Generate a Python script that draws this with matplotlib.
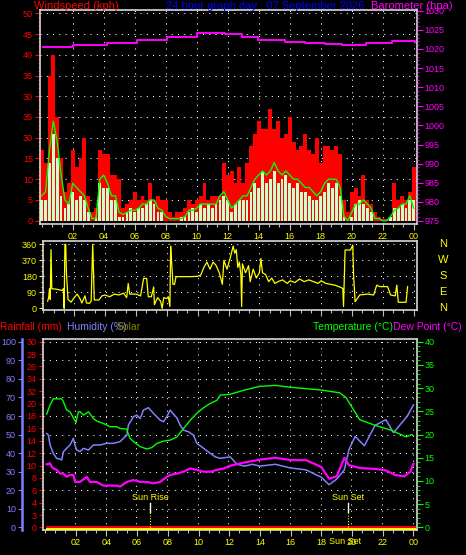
import matplotlib
matplotlib.use('Agg')
import matplotlib.pyplot as plt
import numpy as np

# -----------------------------
# Data
wind_t = [i * 0.25 for i in range(97)]  # hours, 15 minute steps
gust = [17, 14, 35, 40, 25, 15, 7, 9, 17, 13, 15, 20, 6, 2, 3, 17, 16, 16, 11, 11,
        10, 3, 4, 5, 7, 5, 6, 5, 9, 5, 6, 5, 5, 2, 1, 2, 2, 3, 5, 4,
        5, 6, 9, 5, 6, 6, 6, 14, 11, 12, 9, 13, 9, 14, 18, 21, 24, 22, 22, 27,
        22, 24, 20, 21, 25, 19, 17, 18, 21, 17, 16, 20, 14, 18, 18, 17, 18, 16, 5, 2,
        7, 8, 6, 11, 5, 4, 2, 1, 0.5, 0.5, 1, 9, 5, 6, 5, 7, 13]
speed = [5, 5, 14, 21, 15, 6, 3, 4, 7, 5, 6, 5, 2, 0, 1, 9, 8, 8, 5, 5,
         1, 1, 2, 3, 2, 3, 3, 4, 5, 4, 2, 2, 0, 0, 0, 0, 1, 1, 2, 3,
         2, 4, 3, 4, 3, 4, 5, 6, 5, 2, 4, 5, 5, 5, 7, 9, 8, 12, 9, 10,
         12, 9, 10, 11, 9, 8, 9, 7, 7, 6, 5, 5, 6, 7, 9, 8, 9, 6, 1, 0,
         1, 4, 5, 4, 3, 2, 0, 0, 0, 0, 1, 3, 3, 4, 3, 5, 5]
avg = [6, 7, 17, 24, 19, 11, 5, 4, 9, 8, 7, 6, 3, 0.5, 0.5, 10, 11, 9, 6, 6,
       2, 1.5, 2, 2.5, 2.5, 3, 4, 4, 5, 5, 3, 2.5, 1, 0.5, 0.5, 0.5, 0.5, 1, 2.5, 2.5,
       3, 4, 4, 4, 4, 4, 6, 7, 5, 3, 4, 5, 6, 6, 8, 10, 11, 12, 11, 12,
       14, 12, 11, 12, 11, 10, 10, 9, 8, 8, 7, 6, 7, 9, 10, 10, 10, 8, 1, 0,
       2, 4, 4, 5, 4, 3, 0.5, 0.5, 0, 0, 1, 2.5, 3, 4, 4, 6, 3]

baro_t = [0.1, 2.0, 4.2, 6.15, 8.1, 10.0, 11.0, 11.8, 12.9, 13.95, 15.7, 17.0, 18.3,
          19.4, 20.9, 22.6, 23.5, 24.1]
baro = [1020.6, 1021.1, 1021.5, 1022.4, 1023.2, 1024.1, 1024.3, 1023.8, 1023.1, 1022.4,
        1021.9, 1021.5, 1021.2, 1021.1, 1021.5, 1022.0, 1022.2, 1021.7]

dir_t = [0.28, 0.35, 0.4, 0.45, 0.5, 0.55, 0.8, 1.0, 1.2, 1.3, 1.35, 1.4, 1.45, 1.5, 1.6,
         1.8, 2.0, 2.2, 2.4, 2.5, 2.7, 2.8, 3.0, 3.1, 3.2, 3.25, 3.3, 3.6, 3.8, 4.0,
         4.3, 4.6, 4.9, 5.2, 5.4, 5.5, 5.6, 6.0, 6.3, 6.5, 6.7, 6.8, 7.0, 7.15, 7.2,
         7.4, 7.6, 7.7, 7.8, 8.0, 8.1, 8.2, 8.25, 8.3, 8.4, 8.5, 8.6, 9.0, 9.5, 10.0,
         10.2, 10.4, 10.6, 10.8, 11.0, 11.2, 11.4, 11.6, 11.7, 11.9, 12.1, 12.3, 12.4, 12.5, 12.6,
         12.7, 12.8, 12.85, 12.9, 13.1, 13.3, 13.4, 13.6, 13.8, 14.0, 14.1, 14.2, 14.4, 14.6, 14.8,
         15.0, 15.2, 15.5, 15.8, 16.0, 16.3, 16.6, 16.9, 17.2, 17.5, 17.8, 18.0, 18.3, 18.6, 18.9,
         19.2, 19.4, 19.45, 19.55, 19.9, 20.05, 20.1, 20.2, 20.5, 21.0, 21.4, 21.6, 21.8, 22.3, 22.5,
         22.8, 22.9, 23.0, 23.5, 23.6]
wind_dir = [40, 60, 110, 50, 330, 110, 108, 105, 100, 110, 0, 360, 360, 197, 50,
            35, 60, 80, 50, 30, 70, 30, 28, 40, 360, 215, 47, 47, 70, 75,
            65, 80, 75, 85, 60, 140, 80, 80, 70, 168, 168, 65, 65, 120, 20,
            60, 40, 0, 60, 55, 65, 10, 350, 280, 135, 135, 178, 178, 178, 180,
            187, 230, 260, 220, 260, 240, 200, 135, 270, 220, 280, 350, 310, 330, 230,
            260, 190, 10, 250, 200, 240, 150, 220, 170, 200, 280, 200, 190, 150, 170,
            140, 150, 160, 140, 155, 145, 165, 150, 160, 150, 140, 155, 140, 135, 130,
            120, 112, 10, 328, 328, 356, 187, 37, 75, 80, 75, 130, 122, 122, 75,
            70, 131, 34, 34, 122]

temp_t = [0.11, 0.33, 0.54, 1.09, 1.2, 1.41, 1.63, 1.85, 2.02, 2.17, 2.3, 2.5, 2.83, 3.15,
          3.37, 3.8, 4.24, 4.67, 4.89, 5.33, 5.37, 5.54, 5.76, 6.2, 6.63, 6.96, 7.28, 7.72,
          8.15, 8.59, 9.02, 9.46, 9.89, 10.33, 10.76, 11.2, 11.41, 12.07, 13.0, 14.0, 15.0,
          16.0, 17.0, 18.0, 19.2, 19.6, 19.9, 20.5, 21.5, 22.5, 23.2, 23.5, 23.9]
temp = [24.4, 26.4, 27.7, 27.7, 27.1, 25.3, 24.9, 23.6, 22.6, 24.9, 24.9, 24.2, 24.9, 23.5,
        22.9, 22.4, 21.7, 21.7, 21.3, 21.2, 20.6, 19.2, 18.5, 17.4, 16.9, 17.2, 18.1, 18.6,
        18.8, 19.5, 21.3, 23.1, 24.6, 25.8, 26.7, 27.4, 28.5, 28.7, 29.6, 30.4, 30.6,
        30.2, 29.9, 29.6, 29.0, 28.0, 26.4, 23.2, 22.0, 21.0, 20.0, 19.5, 20.0]

hum_t = [0.11, 0.22, 0.33, 0.54, 0.76, 0.98, 1.09, 1.2, 1.41, 1.63, 1.85, 1.96, 2.07, 2.28,
         2.5, 2.83, 3.15, 3.59, 4.02, 4.46, 4.89, 5.11, 5.33, 5.43, 5.76, 5.98, 6.2, 6.41,
         6.74, 7.07, 7.5, 7.72, 7.93, 8.15, 8.37, 8.59, 8.8, 9.02, 9.35, 9.67, 9.89, 10.33,
         10.76, 11.09, 11.41, 12.07, 12.5, 13.0, 13.5, 14.0, 15.0, 16.0, 17.0, 18.0, 18.5,
         19.0, 19.5, 19.8, 20.2, 20.8, 21.5, 22.2, 22.7, 23.2, 23.6, 24.0]
humidity = [50.6, 49.7, 44.4, 39.9, 37.2, 36.8, 36.3, 40.8, 42.6, 44.4, 48, 44, 41.7, 40.8,
            42.6, 41.7, 44.4, 44.4, 45.3, 45.3, 46.2, 48, 49.7, 55.1, 59.6, 60.5, 58.7, 63.2,
            64.5, 61.4, 57.8, 56.9, 59.6, 63.2, 61, 59, 55.1, 52.4, 51.5, 49.7, 45.3, 42.6,
            39.9, 38, 37.2, 38, 34, 33, 34, 33, 34, 32, 31, 27, 23,
            26, 31, 42, 49, 44, 55, 58, 51, 56, 60, 66]

dew_t = [0.11, 0.33, 0.43, 0.54, 0.76, 0.98, 1.2, 1.41, 1.63, 1.85, 1.96, 2.28, 2.72, 2.93,
         3.37, 3.8, 4.24, 4.67, 4.89, 5.33, 5.76, 6.2, 6.63, 7.07, 7.5, 7.93, 8.15, 8.59,
         9.02, 9.46, 9.89, 10.33, 10.76, 11.2, 11.63, 12.07, 13.0, 14.0, 15.0, 16.0, 17.0,
         18.0, 18.5, 19.0, 19.5, 19.8, 20.5, 21.5, 22.2, 22.8, 23.4, 23.8, 24.0]
dew = [13.6, 13.8, 13.1, 12.7, 12.4, 11.6, 11.6, 10.9, 11.3, 11.3, 9.8, 9.8, 10.9, 9.8,
       9.8, 9.0, 9.0, 9.0, 8.8, 9.8, 10.2, 9.8, 9.8, 9.5, 9.8, 10.9, 11.3, 11.6,
       12.0, 12.7, 12.4, 12.0, 12.0, 12.4, 12.7, 13.3, 14.0, 14.6, 15.0, 14.5, 14.5,
       13.0, 10.5, 11.0, 15.0, 13.4, 12.8, 12.6, 12.3, 11.3, 11.0, 12.0, 13.7]

rain_t = [0.1, 24.1]
rain = [0, 0]
solar = [0, 0]

sunrise = 6.84
sunset = 19.76

hour_ticks = [2, 4, 6, 8, 10, 12, 14, 16, 18, 20, 22, 24]
hour_labels = ['02', '04', '06', '08', '10', '12', '14', '16', '18', '20', '22', '00']
wind_ticks = [0, 5, 10, 15, 20, 25, 30, 35, 40, 45, 50]
wind_labels = ['0', '5', '10', '15', '30', '35', '30', '35', '40', '45', '50']
baro_ticks = [975, 980, 985, 990, 995, 1000, 1005, 1010, 1015, 1020, 1025, 1030]
dir_ticks = [0, 90, 180, 270, 360]
dir_labels = ['0', '90', '180', '370', '360']
compass = ['N', 'W', 'S', 'E', 'N']
rain_ticks = list(range(0, 31, 2))
rain_labels = ['0', '3', '4', '6', '8', '10', '12', '14', '16', '18', '20', '32', '34', '26', '28', '30']
hum_ticks = list(range(0, 101, 10))
temp_ticks = [0, 5, 10, 15, 20, 25, 30, 35, 40]

# -----------------------------
# Figure / layout helpers (pixel based)
W, H = 466, 555
fig = plt.figure(figsize=(W / 100, H / 100), dpi=100, facecolor='black')
FONT = ['Liberation Sans', 'DejaVu Sans']
plt.rcParams['font.family'] = FONT
FRAME = '#d8d8d8'


def box(l, t, r, b):
    return [l / W, 1 - b / H, (r - l) / W, (b - t) / H]


def ftext(x, y, s, color, ha='left', size=8):
    fig.text(x / W, 1 - y / H, s, color=color, ha=ha, va='center', fontsize=size)


def frame(ax):
    ax.set_facecolor('black')
    for sp in ax.spines.values():
        sp.set_color(FRAME)
        sp.set_linewidth(1.2)


def dots(ax, xs, ys):
    for x in xs:
        ax.axvline(x, color='white', lw=0.75, ls=(0, (1, 5)), zorder=0.5)
    for y in ys:
        ax.axhline(y, color='white', lw=0.75, ls=(0, (1, 5)), zorder=0.5)


def hour_axis(ax, labels=True):
    ax.set_xticks(hour_ticks)
    ax.set_xticks(np.arange(0, 24.3, 2 / 3), minor=True)
    ax.set_xticklabels(hour_labels if labels else [])
    ax.tick_params(axis='x', which='major', colors='#c0c0c0', length=4, width=0.8,
                   labelcolor='yellow', labelsize=6.5, pad=2)
    ax.tick_params(axis='x', which='minor', colors='#c0c0c0', length=2.5, width=0.8)


# -----------------------------
# Top panel: wind speed + barometer
ax1 = fig.add_axes(box(40, 10, 417, 224))
frame(ax1)
ax1.set_xlim(-0.11, 24.21)
ax1.set_ylim(-0.8, 50.8)
dots(ax1, hour_ticks, wind_ticks[1:])
ax1.bar(wind_t, gust, width=0.25, color='#ff0000', linewidth=0, zorder=2)
ax1.bar(wind_t, speed, width=0.18, color='#ccffcc', linewidth=0, zorder=3)
ax1.plot(wind_t, avg, color='#00ff00', lw=1.0, zorder=4)
ax1.set_yticks(wind_ticks)
ax1.set_yticklabels(wind_labels)
ax1.set_yticks(range(0, 51), minor=True)
ax1.tick_params(axis='y', which='major', colors='red', length=3.5, labelsize=6.5, pad=1.5)
ax1.tick_params(axis='y', which='minor', colors='red', length=1.5)
hour_axis(ax1)

ax1b = ax1.twinx()
ax1b.set_ylim(974.2, 1030.2)
for sp in ax1b.spines.values():
    sp.set_visible(False)
ax1b.plot(baro_t, baro, color='#ff00ff', lw=1.4, drawstyle='steps-post', zorder=5)
ax1b.set_yticks(baro_ticks)
ax1b.set_yticks(range(975, 1031), minor=True)
ax1b.tick_params(axis='y', which='major', colors='#ff00ff', length=4, labelsize=6.5, pad=1.5)
ax1b.tick_params(axis='y', which='minor', colors='#ff00ff', length=1.5)

ftext(34, 6, 'Windspeed (kph)', '#ff0000')
ftext(265, 6, '24 hour graph day : 07 September 2026', '#0000ff', ha='center')
ftext(371, 6, 'Barometer (hpa)', '#ff00ff')

# -----------------------------
# Middle panel: wind direction
ax2 = fig.add_axes(box(43.3, 241, 416.7, 310))
frame(ax2)
ax2.set_xlim(0.10, 24.19)
ax2.set_ylim(-9.5, 378.6)
dots(ax2, hour_ticks, dir_ticks[1:])
ax2.plot(dir_t, wind_dir, color='#ffff00', lw=0.9, zorder=3)
ax2.set_yticks(dir_ticks)
ax2.set_yticklabels(dir_labels)
ax2.set_yticks(range(0, 361, 30), minor=True)
ax2.tick_params(axis='y', which='major', colors='#ffff00', length=3, labelsize=6.5, pad=1.5)
ax2.tick_params(axis='y', which='minor', colors='#ffff00', length=1.5)
hour_axis(ax2, labels=False)
for d, letter in zip(dir_ticks[::-1], compass):
    ax2.text(1.07, d, letter, color='#ffff00', fontsize=8, ha='center', va='center',
             transform=ax2.get_yaxis_transform())

# -----------------------------
# Bottom panel: rain, humidity, solar, temperature, dew point
ax3 = fig.add_axes(box(43, 339, 417, 530))
frame(ax3)
ax3.set_xlim(-0.13, 24.23)
ax3.set_ylim(-0.42, 30.44)
ax3.set_yticks(rain_ticks)
ax3.set_yticklabels(rain_labels)
ax3.set_yticks(np.arange(0, 30.1, 0.5), minor=True)
ax3.tick_params(axis='y', which='major', colors='red', length=3, labelsize=6.5, pad=1.5)
ax3.tick_params(axis='y', which='minor', colors='red', length=1.5)
hour_axis(ax3)

ax3h = ax3.twinx()
ax3h.set_ylim(-1.4, 101.5)
for sp in ax3h.spines.values():
    sp.set_visible(False)
ax3h.spines['left'].set_visible(True)
ax3h.spines['left'].set_position(('outward', 15))
ax3h.spines['left'].set_color('#8080ff')
ax3h.spines['left'].set_linewidth(1.8)
ax3h.yaxis.set_ticks_position('left')
ax3h.set_yticks(hum_ticks)
ax3h.tick_params(axis='y', colors='#8080ff', length=3, labelsize=6.5, pad=1.5)

ax3t = ax3.twinx()
ax3t.set_ylim(-0.56, 40.6)
for sp in ax3t.spines.values():
    sp.set_visible(False)
ax3t.set_yticks(temp_ticks)
ax3t.set_yticks(range(0, 41), minor=True)
ax3t.tick_params(axis='y', which='major', colors='#00ff00', length=4, labelsize=6.5, pad=1.5)
ax3t.tick_params(axis='y', which='minor', colors='#00ff00', length=2)

ax3s = ax3.twinx()
ax3s.set_ylim(-8, 1040)
ax3s.axis('off')

dots(ax3, [h - 0.05 for h in hour_ticks], [])
for hv in hum_ticks[1:]:
    ax3h.axhline(hv, color='white', lw=0.75, ls=(0, (1, 5)), zorder=0.5)

ax3.plot(rain_t, rain, color='#ff0000', lw=1.4, zorder=4)
ax3s.plot(rain_t, solar, color='#ffff00', lw=1.4, zorder=3)
ax3h.plot(hum_t, humidity, color='#8080ff', lw=1.1, zorder=3)
ax3t.plot(temp_t, temp, color='#00ff00', lw=1.0, zorder=3)
ax3t.plot(dew_t, dew, color='#ff00ff', lw=1.6, zorder=3)

for sx, name in [(sunrise, 'Sun Rise'), (sunset, 'Sun Set')]:
    ax3.axvline(sx, ymin=0.094, ymax=0.141, color='white', lw=1.0, zorder=5)
    ax3.axvline(sx, ymin=0.0, ymax=0.094, color='#ffff00', lw=0.8, ls=(0, (1, 1.5)), zorder=5)
    ax3.text(sx, 0.169, name, color='#ffff00', fontsize=6.5, ha='center', va='center',
             transform=ax3.get_xaxis_transform())
ax3.text(sunset - 0.2, -0.058, 'Sun Set', color='#ffff00', fontsize=6.5, ha='center',
         va='center', transform=ax3.get_xaxis_transform())

ftext(0, 327, 'Rainfall (mm)', '#ff0000', size=7.5)
ftext(67, 327, 'Humidity (%)', '#8080ff', size=7.5)
ftext(117, 327, 'Solar', '#808000', size=7.5)
ftext(313, 327, 'Temperature (°C)', '#00ff00', size=7.5)
ftext(393, 327, 'Dew Point (°C)', '#ff00ff', size=7.5)

fig.savefig('out.png', dpi=100, facecolor='black')
